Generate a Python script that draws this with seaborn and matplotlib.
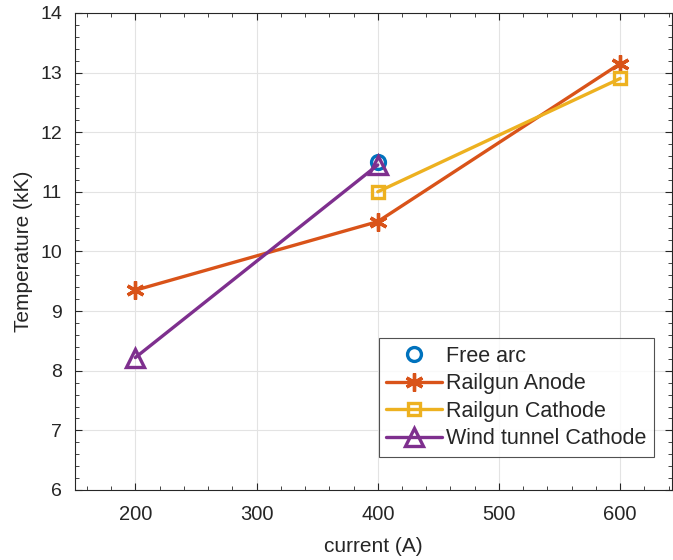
import numpy as np
import seaborn as sns
import pandas as pd
import matplotlib.pyplot as plt
from matplotlib.ticker import MultipleLocator

# data
free_arc_x = [400]
free_arc_y = [11.5]
anode_x = [200, 400, 600]
anode_y = [9.35, 10.5, 13.15]
cathode_x = [400, 600]
cathode_y = [11.0, 12.9]
wind_x = [200, 400]
wind_y = [8.22, 11.45]

sns.set_style("ticks")
plt.rcParams['font.family'] = ['Liberation Sans', 'DejaVu Sans']

fig = plt.figure(figsize=(6.73, 5.6), dpi=100)
ax = fig.add_axes([0.111, 0.125, 0.888, 0.852])

ax.grid(True, which='major', color='#e3e3e3', linewidth=0.8)
ax.set_axisbelow(True)

c_free, c_anode, c_cath, c_wind = '#0072BD', '#D95319', '#EDB120', '#7E2F8E'
sns.lineplot(x=free_arc_x, y=free_arc_y, ax=ax, color=c_free, marker='o',
             markersize=10, markerfacecolor='none', markeredgecolor=c_free,
             markeredgewidth=2.4, linestyle='none', label='Free arc')
sns.lineplot(x=anode_x, y=anode_y, ax=ax, color=c_anode, marker=(6, 2, 0),
             markersize=13, markeredgecolor=c_anode, markeredgewidth=2.4,
             linewidth=2.4, label='Railgun Anode')
sns.lineplot(x=cathode_x, y=cathode_y, ax=ax, color=c_cath, marker='s',
             markersize=9, markerfacecolor='none', markeredgecolor=c_cath,
             markeredgewidth=2.4, linewidth=2.4, label='Railgun Cathode')
sns.lineplot(x=wind_x, y=wind_y, ax=ax, color=c_wind, marker='^',
             markersize=13, markerfacecolor='none', markeredgecolor=c_wind,
             markeredgewidth=2.4, linewidth=2.4, label='Wind tunnel Cathode')

ax.set_xlim(150, 643)
ax.set_ylim(6, 14)
ax.xaxis.set_major_locator(MultipleLocator(100))
ax.xaxis.set_minor_locator(MultipleLocator(20))
ax.yaxis.set_major_locator(MultipleLocator(1))
ax.yaxis.set_minor_locator(MultipleLocator(0.2))
ax.tick_params(which='both', direction='in', top=True, right=True,
               colors='#262626')
ax.tick_params(axis='x', pad=11, labelsize=14.5)
ax.tick_params(axis='y', pad=9, labelsize=14)
ax.tick_params(which='major', length=5)
ax.tick_params(which='minor', length=3)
for s in ax.spines.values():
    s.set_color('#262626')
    s.set_linewidth(0.8)

ax.set_xlabel('current (A)', fontsize=15, color='#262626', labelpad=9)
ax.set_ylabel('Temperature (kK)', fontsize=15, color='#262626', labelpad=5)

leg = ax.legend(loc='lower right', bbox_to_anchor=(0.97, 0.07), fontsize=15.5,
                frameon=True, fancybox=False, edgecolor='#262626',
                handlelength=2.6, handletextpad=0.2, borderpad=0.35,
                labelspacing=0.3, borderaxespad=0)
leg.get_frame().set_linewidth(0.8)

fig.savefig('out.png', dpi=100)
